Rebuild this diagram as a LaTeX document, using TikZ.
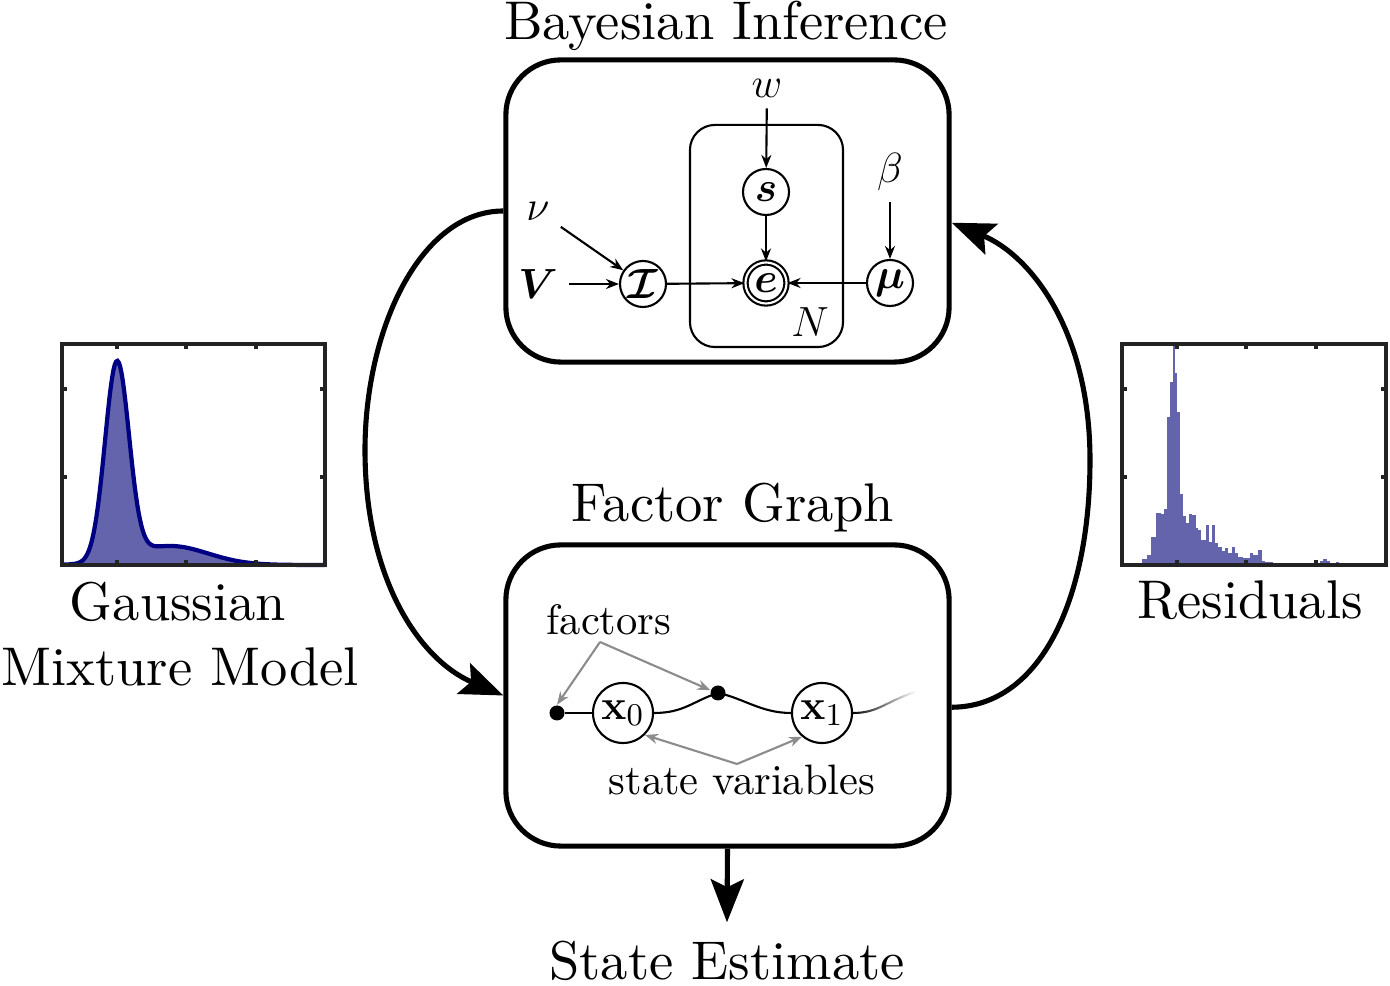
\documentclass[tikz,border=0pt]{standalone}
\usepackage{amsmath}
\usepackage{bm}
\usetikzlibrary{arrows.meta,fadings}

\definecolor{gmmline}{RGB}{0,0,130}
\definecolor{gmmfill}{RGB}{100,100,172}
\definecolor{axisgray}{RGB}{35,35,35}

\begin{document}
\begin{tikzpicture}[x=0.01cm, y=-0.01cm,
    bigbox/.style={draw, line width=1.45pt, rounded corners=0.55cm, minimum width=4.43cm, inner sep=0pt},
    big/.style={scale=1.55, font=\fontsize{10}{12}\selectfont},
    mid/.style={scale=1.21, font=\fontsize{10}{12}\selectfont},
    var/.style={draw, circle, semithick, minimum size=0.46cm, inner sep=0pt, font=\fontsize{13}{15}\selectfont},
    lbl/.style={font=\fontsize{13}{15}\selectfont, inner sep=3pt},
    state/.style={draw, circle, semithick, minimum size=0.6cm, inner sep=0pt, font=\fontsize{12.5}{14}\selectfont},
    factor/.style={circle, fill, minimum size=0.15cm, inner sep=0pt},
    arr/.style={-{Stealth[length=0.13cm,width=0.1cm]}, semithick},
    garr/.style={-{Stealth[length=0.13cm,width=0.1cm]}, semithick, black!45},
    bigarr/.style={-{Stealth[length=0.43cm,width=0.33cm,inset=0.08cm]}, line width=1.45pt},
    axisbox/.style={draw=axisgray, line width=1.1pt}]
    \useasboundingbox (0,0) rectangle (1390,986);

    % ==== BOXES AND TITLES ====
    \node[bigbox, minimum height=3.02cm] (bayes) at (727.5,211) {};
    \node[bigbox, minimum height=3.01cm] (fg) at (727.5,695.5) {};
    \node[big, anchor=base, inner sep=0pt] (tbayes) at (726,40) {Bayesian Inference};
    \node[big, anchor=base] (tfg) at (733,522) {Factor Graph};
    \node[big, anchor=base] (est) at (727,980) {State Estimate};
    \draw[bigarr] (fg.south) -- (est.north);

    % ==== GRAPHICAL MODEL ====
    \node[draw, semithick, rounded corners=0.25cm, minimum width=1.53cm, minimum height=2.22cm] (plate) at (766.5,236) {};
    \node[lbl] (N) at (810,322) {$N$};
    \node[var] (s) at (766,192) {$\bm{s}$};
    \node[var, double, double distance=0.6pt, minimum size=0.41cm] (e) at (766,283) {$\bm{e}$};
    \node[var] (I) at (643,284) {$\bm{\mathcal{I}}$};
    \node[var] (mu) at (890,283) {$\bm{\mu}$};
    \node[lbl] (w) at (767,88) {$w$};
    \node[lbl] (beta) at (890,172) {$\beta$};
    \node[lbl] (nu) at (538,211) {$\nu$};
    \node[lbl] (V) at (538,284) {$\bm{V}$};
    \draw[arr] (w) -- (s);
    \draw[arr] (s) -- (e);
    \draw[arr] (beta) -- (mu);
    \draw[arr] (nu) -- (I);
    \draw[arr] (V) -- (I);
    \draw[arr] (I) -- (e);
    \draw[arr] (mu) -- (e);

    % ==== FACTOR GRAPH ====
    \node[mid] (factors) at (609,620) {factors};
    \node[factor] (f1) at (557,713) {};
    \node[state] (x0) at (623,713) {$\mathbf{x}_0$};
    \node[factor] (f2) at (718,693) {};
    \node[state] (x1) at (822,713) {$\mathbf{x}_1$};
    \coordinate (tail) at (915,692);
    \node[mid] (sv) at (742,780) {state variables};
    \draw[semithick] (f1) -- (x0);
    \draw[semithick] (x0.east) .. controls +(30,0) and +(-25,8) .. (f2.center)
        .. controls +(25,5) and +(-30,0) .. (x1.west);
    \draw[semithick, path fading=east] (x1.east) .. controls +(25,0) and +(-30,10) .. (tail);
    \coordinate (fk) at (600,642);
    \coordinate (sk) at (737,764);
    \draw[garr] (fk) -- (f1.north);
    \draw[garr] (fk) -- (f2.160);
    \draw[garr] (sk) -- (x0.-45);
    \draw[garr] (sk) -- (x1.-130);

    % ==== LOOP ARROWS ====
    \draw[bigarr] (bayes.west) .. controls (420,211) and (365,330) .. (365,450)
        .. controls (365,580) and (420,660) .. (fg.west);
    \draw[bigarr] (fg.-3) .. controls (1040,707) and (1090,600) .. (1090,460)
        .. controls (1090,330) and (1030,255) .. (bayes.-3);

    % ==== GAUSSIAN MIXTURE MODEL ====
    \fill[gmmfill] (62,565) -- plot[domain=62:325, samples=200]
        (\x, {565-197*exp(max(-9,-((\x-117)/12)^2/2))-19*exp(max(-9,-((\x-170)/38)^2/2))}) -- (325,565) -- cycle;
    \draw[gmmline, line width=1.2pt] plot[domain=62:325, samples=200]
        (\x, {565-197*exp(max(-9,-((\x-117)/12)^2/2))-19*exp(max(-9,-((\x-170)/38)^2/2))});
    \draw[axisbox] (62,344) rectangle (325,565);
    \foreach \t in {117,186,256} {
        \draw[axisbox] (\t,344) -- (\t,349);
        \draw[axisbox] (\t,565) -- (\t,560);
    }
    \foreach \t in {389,477} {
        \draw[axisbox] (62,\t) -- (67,\t);
        \draw[axisbox] (325,\t) -- (320,\t);
    }
    \node[big, anchor=base] (gmm1) at (178,621) {Gaussian};
    \node[big, anchor=base] (gmm2) at (180,686) {Mixture Model};

    % ==== RESIDUALS ====
    \foreach \a/\b/\h in {1142/1147/6, 1147/1151/10, 1151/1156/28, 1156/1161/52, 1161/1164/51,
        1164/1167/56, 1167/1170/148, 1170/1172.5/183, 1172.5/1174.5/220, 1174.5/1177/192,
        1177/1180/153, 1180/1183/71, 1183/1186/49, 1186/1189/42, 1189/1192/51, 1192/1196/50,
        1196/1198/37, 1198/1201/35, 1201/1206/25, 1206/1209/40, 1209/1212/23, 1212/1215/40,
        1215/1218/22, 1218/1222/18, 1222/1225/14, 1225/1228/17, 1228/1232/12, 1232/1235/18,
        1235/1238/12, 1238/1243/8, 1243/1250/7, 1250/1253/12, 1253/1258/10, 1258/1262/15,
        1262/1265/4, 1265/1273/3, 1273/1283/1, 1320/1323/4, 1323/1327/6, 1327/1330/4,
        1330/1333/2, 1336/1339/3}
        \fill[gmmfill] (\a,565) rectangle (\b,{565-\h});
    \draw[axisbox] (1122,344) rectangle (1386,565);
    \foreach \t in {1177,1246,1316} {
        \draw[axisbox] (\t,344) -- (\t,349);
        \draw[axisbox] (\t,565) -- (\t,560);
    }
    \foreach \t in {389,477} {
        \draw[axisbox] (1122,\t) -- (1127,\t);
        \draw[axisbox] (1386,\t) -- (1381,\t);
    }
    \node[big, anchor=base] (res) at (1250,619) {Residuals};
\end{tikzpicture}
\end{document}
